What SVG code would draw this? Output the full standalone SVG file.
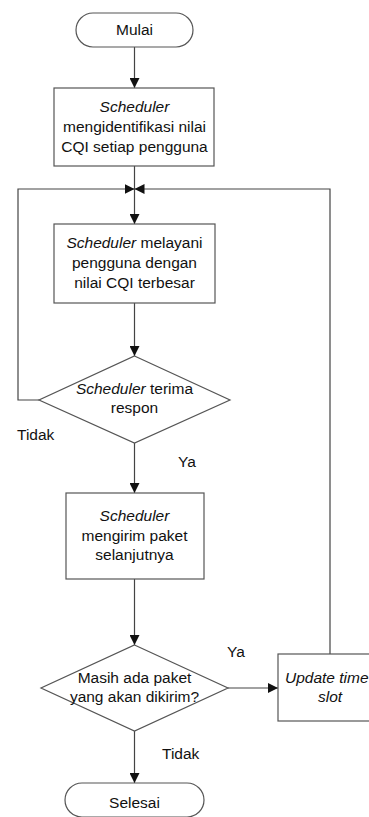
<svg xmlns="http://www.w3.org/2000/svg" width="369" height="817" viewBox="0 0 369 817">
<style>
.s{fill:#fff;stroke:#555;stroke-width:1.2}
.c{fill:none;stroke:#444;stroke-width:1.2}
text{font-family:"Liberation Sans",Arial,sans-serif;font-size:15.5px;fill:#111;text-anchor:middle}
.i{font-style:italic}
.l{text-anchor:start}
</style>
<defs>
<marker id="a" viewBox="0 0 10 10" refX="10" refY="5" markerWidth="10" markerHeight="10" markerUnits="userSpaceOnUse" orient="auto">
<path d="M0,0 L10,5 L0,10 Z" fill="#111"/>
</marker>
</defs>
<rect width="369" height="817" fill="#fff"/>
<g id="connectors">
<line class="c" x1="134.5" y1="47" x2="134.5" y2="88" marker-end="url(#a)"/>
<line class="c" x1="134.5" y1="166" x2="134.5" y2="224" marker-end="url(#a)"/>
<line class="c" x1="134.5" y1="303" x2="134.5" y2="356" marker-end="url(#a)"/>
<polyline class="c" points="39,400 18,400 18,189 134.5,189" marker-end="url(#a)"/>
<line class="c" x1="134.5" y1="443" x2="134.5" y2="493" marker-end="url(#a)"/>
<line class="c" x1="134.5" y1="579" x2="134.5" y2="645" marker-end="url(#a)"/>
<line class="c" x1="228" y1="688" x2="278" y2="688" marker-end="url(#a)"/>
<polyline class="c" points="330,654 330,189 134.5,189" marker-end="url(#a)"/>
<line class="c" x1="134.5" y1="731" x2="134.5" y2="783" marker-end="url(#a)"/>
<text class="l" x="17" y="440">Tidak</text>
<text class="l" x="178" y="467">Ya</text>
<text class="l" x="227" y="657">Ya</text>
<text class="l" x="162" y="759">Tidak</text>
</g>
<g id="mulai">
<rect class="s" x="76" y="13" width="117" height="34" rx="17" ry="17"/>
<text x="134.5" y="35">Mulai</text>
</g>
<g id="identifikasi">
<rect class="s" x="54" y="88" width="160" height="78"/>
<text x="134.5" y="112" class="i">Scheduler</text>
<text x="134.5" y="132">mengidentifikasi nilai</text>
<text x="134.5" y="152">CQI setiap pengguna</text>
</g>
<g id="melayani">
<rect class="s" x="54" y="224" width="161" height="79"/>
<text x="134.5" y="248"><tspan class="i">Scheduler</tspan> melayani</text>
<text x="134.5" y="268">pengguna dengan</text>
<text x="134.5" y="288">nilai CQI terbesar</text>
</g>
<g id="terima">
<polygon class="s" points="134.5,356 230,400 134.5,443 39,400"/>
<text x="134.5" y="394"><tspan class="i">Scheduler</tspan> terima</text>
<text x="134.5" y="413">respon</text>
</g>
<g id="kirim">
<rect class="s" x="66" y="493" width="138" height="86"/>
<text x="134.5" y="521" class="i">Scheduler</text>
<text x="134.5" y="541">mengirim paket</text>
<text x="134.5" y="560">selanjutnya</text>
</g>
<g id="masih">
<polygon class="s" points="134.5,645 228,688 134.5,731 41,688"/>
<text x="134.5" y="683">Masih ada paket</text>
<text x="134.5" y="702">yang akan dikirim?</text>
</g>
<g id="update">
<rect class="s" x="278" y="654" width="104" height="67"/>
<text x="285" y="683" class="i l">Update time</text>
<text x="330" y="702" class="i">slot</text>
</g>
<g id="selesai">
<rect class="s" x="65" y="783" width="139" height="34" rx="17" ry="17"/>
<text x="134.5" y="808">Selesai</text>
</g>
</svg>
